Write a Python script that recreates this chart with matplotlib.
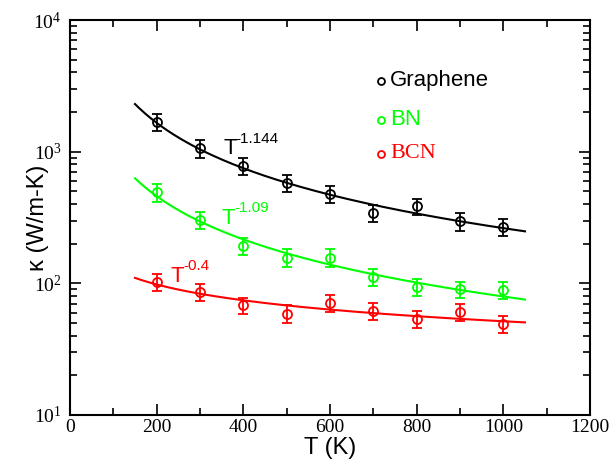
import numpy as np
import matplotlib
matplotlib.use("Agg")
import matplotlib.pyplot as plt
from matplotlib.ticker import FixedLocator, LogLocator, NullFormatter

plt.rcParams['mathtext.fontset'] = 'custom'
plt.rcParams['mathtext.rm'] = 'Liberation Serif'
plt.rcParams['mathtext.sf'] = 'Liberation Sans'
plt.rcParams['mathtext.it'] = 'Liberation Serif:italic'

# temperatures (K)
T = [200, 300, 400, 500, 600, 700, 800, 900, 1000]

# thermal conductivity (W/m-K)
k_graphene = [1680, 1060, 785, 575, 478, 342, 385, 296, 270]
k_bn = [490, 303, 192, 157, 157, 112, 94, 90, 89]
k_bcn = [103, 86, 68, 59, 71, 62, 54, 61, 49]

# error bars (W/m-K)
err_graphene = [250, 160, 115, 85, 70, 50, 55, 45, 40]
err_bn = [75, 45, 28, 24, 24, 17, 14, 13, 13]
err_bcn = [15, 13, 10, 9, 10, 9, 8, 9, 7]

# power-law fits: k = A * T^p, drawn over 150..1050 K
fit_range = (150, 1050)
fit_graphene = (2300 * 150**1.144, -1.144)
fit_bn = (628 * 150**1.09, -1.09)
fit_bcn = (110 * 150**0.4, -0.4)

GREEN = '#00ff00'
RED = '#ff0000'

fig = plt.figure(figsize=(6.12, 4.59), dpi=100)
ax = fig.add_axes([70/612, 44/459, 520/612, 395/459])

Tfit = np.linspace(fit_range[0], fit_range[1], 200)
series = [
    (k_graphene, err_graphene, fit_graphene, 'black'),
    (k_bn, err_bn, fit_bn, GREEN),
    (k_bcn, err_bcn, fit_bcn, RED),
]
for k, e, (A, p), c in series:
    ax.plot(Tfit, A * Tfit**p, color=c, lw=1.5)
    ax.errorbar(T, k, yerr=e, fmt='o', mfc='none', mec=c, ecolor=c,
                ms=6.5, mew=1.3, elinewidth=1.3, capsize=3.8, capthick=1.3)

ax.set_yscale('log')
ax.set_xlim(0, 1200)
ax.set_ylim(10, 1e4)

ax.xaxis.set_major_locator(FixedLocator([0, 200, 400, 600, 800, 1000, 1200]))
ax.xaxis.set_minor_locator(FixedLocator([100, 300, 500, 700, 900, 1100]))
ax.yaxis.set_major_locator(FixedLocator([10, 100, 1000, 10000]))
ax.yaxis.set_minor_locator(LogLocator(base=10, subs=np.arange(2, 10)))
ax.yaxis.set_minor_formatter(NullFormatter())
ax.set_yticklabels([r'$\mathrm{10^{%d}}$' % d for d in [1, 2, 3, 4]])

ax.tick_params(which='both', direction='in', top=True, right=True, width=1.2)
ax.tick_params(which='major', length=8)
ax.tick_params(which='minor', length=5)
ax.tick_params(axis='x', labelsize=14, pad=3)
ax.tick_params(axis='y', labelsize=14, pad=6)
for lab in ax.get_xticklabels():
    lab.set_family('Liberation Serif')
for s in ax.spines.values():
    s.set_linewidth(1.5)

ax.set_xlabel('T (K)', fontsize=17, family='Liberation Sans', va='baseline')
ax.xaxis.set_label_coords(0.5, -0.0975)
ax.set_ylabel('κ (W/m-K)', fontsize=17, family='Liberation Sans', va='center')
ax.yaxis.set_label_coords(-0.0615, 0.5)

# fit exponents: "T" plus a raised exponent
notes = [(353.8, 955, '-1.144', 'black'),
         (350, 282, '-1.09', GREEN),
         (233, 103, '-0.4', RED)]
for tx, ty, expo, c in notes:
    ax.text(tx, ty, 'T', color=c, fontsize=16, family='Liberation Sans',
            ha='left', va='baseline')
    ax.annotate(expo, (tx, ty), xytext=(9, 8.4), textcoords='offset points',
                color=c, fontsize=11, family='Liberation Sans',
                ha='left', va='baseline')

# legend
leg = [('Graphene', 'black', 'Liberation Sans', 0.846),
       ('BN', GREEN, 'Liberation Sans', 0.747),
       ('BCN', RED, 'Liberation Serif', 0.661)]
for name, c, fam, yy in leg:
    ax.plot([0.598], [yy], 'o', mfc='none', mec=c, ms=5, mew=1.3,
            transform=ax.transAxes, clip_on=False)
    ax.text(0.616, yy, name, color=c, fontsize=16, family=fam,
            ha='left', va='center', transform=ax.transAxes)

fig.savefig('out.png', dpi=100)
